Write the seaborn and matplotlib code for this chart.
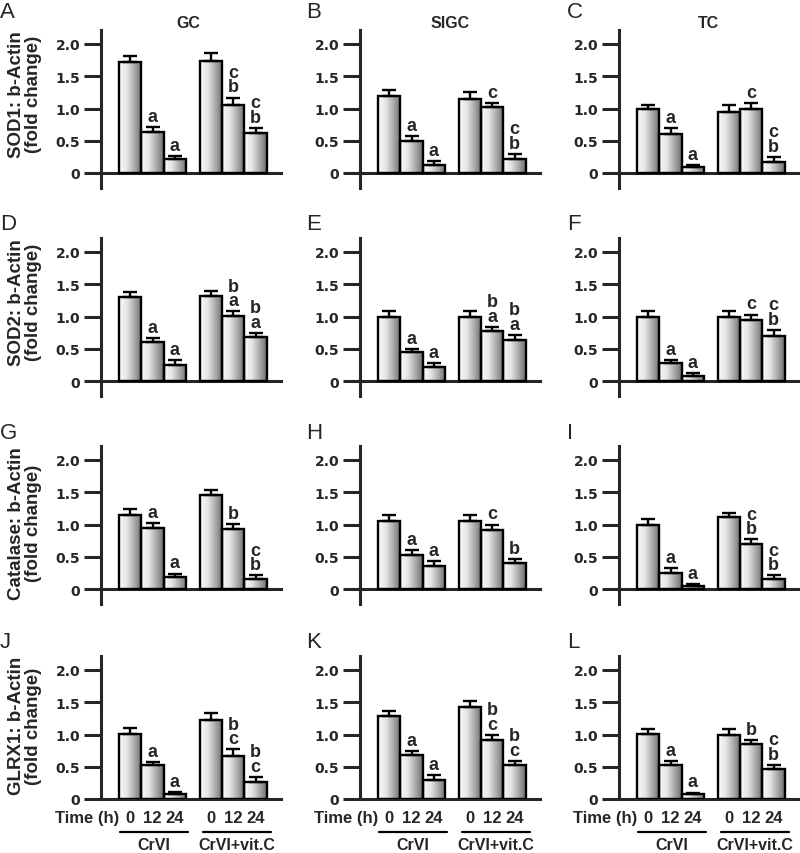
import matplotlib
matplotlib.use("Agg")
import matplotlib.pyplot as plt
from matplotlib.colors import LinearSegmentedColormap
import matplotlib.transforms as mtransforms
import numpy as np
import pandas as pd
import seaborn as sns
####################################################

# bar positions (two groups of three time points)
positions = [0, 1, 2, 3.6, 4.6, 5.6]
time_labels = ["0", "12", "24", "0", "12", "24"]
groups = ["CrVI", "CrVI+vit.C"]
columns = ["GC", "SIGC", "TC"]
row_labels = ["SOD1: b-Actin\n(fold change)",
              "SOD2: b-Actin\n(fold change)",
              "Catalase: b-Actin\n(fold change)",
              "GLRX1: b-Actin\n(fold change)"]
panel_letters = ["A", "B", "C", "D", "E", "F", "G", "H", "I", "J", "K", "L"]

means = {
    "A": [1.72, 0.63, 0.21, 1.74, 1.05, 0.62],
    "B": [1.19, 0.50, 0.13, 1.15, 1.02, 0.22],
    "C": [0.99, 0.61, 0.09, 0.95, 0.99, 0.17],
    "D": [1.31, 0.61, 0.25, 1.32, 1.01, 0.68],
    "E": [1.00, 0.45, 0.22, 1.00, 0.77, 0.63],
    "F": [1.00, 0.28, 0.07, 1.00, 0.95, 0.70],
    "G": [1.15, 0.94, 0.19, 1.45, 0.93, 0.16],
    "H": [1.05, 0.52, 0.36, 1.05, 0.91, 0.40],
    "I": [1.00, 0.25, 0.05, 1.11, 0.70, 0.15],
    "J": [1.01, 0.52, 0.07, 1.22, 0.66, 0.27],
    "K": [1.28, 0.68, 0.30, 1.42, 0.92, 0.52],
    "L": [1.01, 0.52, 0.07, 1.00, 0.85, 0.47],
}
sems = {
    "A": [0.10, 0.08, 0.05, 0.12, 0.12, 0.08],
    "B": [0.09, 0.07, 0.05, 0.10, 0.06, 0.08],
    "C": [0.07, 0.08, 0.04, 0.10, 0.09, 0.08],
    "D": [0.07, 0.06, 0.07, 0.07, 0.07, 0.07],
    "E": [0.09, 0.05, 0.06, 0.08, 0.07, 0.08],
    "F": [0.09, 0.05, 0.05, 0.08, 0.08, 0.09],
    "G": [0.09, 0.08, 0.05, 0.08, 0.08, 0.05],
    "H": [0.09, 0.08, 0.08, 0.09, 0.09, 0.07],
    "I": [0.09, 0.07, 0.02, 0.07, 0.07, 0.06],
    "J": [0.09, 0.06, 0.04, 0.12, 0.11, 0.07],
    "K": [0.08, 0.07, 0.07, 0.10, 0.07, 0.07],
    "L": [0.08, 0.07, 0.03, 0.09, 0.07, 0.06],
}
sig = {
    "A": ["", "a", "a", "", "c\nb", "c\nb"],
    "B": ["", "a", "a", "", "c", "c\nb"],
    "C": ["", "a", "a", "", "c", "c\nb"],
    "D": ["", "a", "a", "", "b\na", "b\na"],
    "E": ["", "a", "a", "", "b\na", "b\na"],
    "F": ["", "a", "a", "", "c", "c\nb"],
    "G": ["", "a", "a", "", "b", "c\nb"],
    "H": ["", "a", "a", "", "c", "b"],
    "I": ["", "a", "a", "", "c\nb", "c\nb"],
    "J": ["", "a", "a", "", "b\nc", "b\nc"],
    "K": ["", "a", "a", "", "b\nc", "b\nc"],
    "L": ["", "a", "a", "", "b", "c\nb"],
}

sns.set_style("ticks")
plt.rcParams['font.family'] = ['Liberation Sans', 'DejaVu Sans']

W, H = 800, 854
fig = plt.figure(figsize=(W / 100, H / 100), dpi=100)

grey_cmap = LinearSegmentedColormap.from_list("bargrad", ["#fafafa", "#e6e6e6", "#adadad", "#6e6e6e"])
grad = np.linspace(0, 1, 64).reshape(1, -1)

px_per_unit = 64.5
row_zero = [174, 382, 590, 800]
col_spine = [101, 360, 619]
xlim = (-1.3, 6.75)
x_px = 22.4
ax_w = (xlim[1] - xlim[0]) * x_px

for r in range(4):
    for c in range(3):
        letter = panel_letters[r * 3 + c]
        last = (r == 3)
        ylo = 0 if last else -0.23
        yhi = 2.22
        top_px = row_zero[r] - yhi * px_per_unit
        bot_px = row_zero[r] - ylo * px_per_unit
        ax = fig.add_axes([col_spine[c] / W, 1 - bot_px / H, ax_w / W, (bot_px - top_px) / H])

        df = pd.DataFrame({"pos": positions, "value": means[letter]})
        sns.barplot(data=df, x="pos", y="value", native_scale=True, errorbar=None,
                    width=1, color="#dddddd", edgecolor="black", linewidth=1.7, ax=ax)

        # gradient fill inside each bar
        for p in list(ax.patches):
            x0, w, h = p.get_x(), p.get_width(), p.get_height()
            im = ax.imshow(grad, extent=(x0, x0 + w, 0, h), cmap=grey_cmap, aspect="auto",
                           interpolation="bilinear", zorder=2)
            im.set_clip_path(p)
            p.set_facecolor("none")
            p.set_zorder(3)

        ax.errorbar(positions, means[letter], yerr=[np.zeros(6), sems[letter]], fmt="none",
                    ecolor="black", elinewidth=1.7, capsize=5.2, capthick=1.7, zorder=4)

        for xp, m, s, lab in zip(positions, means[letter], sems[letter], sig[letter]):
            if lab:
                ax.annotate(lab, (xp, m + s), xytext=(0, 1.5), textcoords="offset points",
                            ha="center", va="bottom", fontsize=13, fontweight="bold",
                            linespacing=0.82)

        ax.set_xlim(*xlim)
        ax.set_ylim(ylo, yhi)
        ax.set_yticks([0, 0.5, 1.0, 1.5, 2.0])
        ax.set_yticklabels(["0", "0.5", "1.0", "1.5", "2.0"], fontweight="heavy",
                           fontsize=10, family="DejaVu Sans")
        ax.tick_params(axis="y", direction="out", length=12, width=2.2, pad=3)
        for sp in ["top", "right"]:
            ax.spines[sp].set_visible(False)
        ax.spines["left"].set_linewidth(2.2)
        ax.spines["bottom"].set_linewidth(2.2)
        ax.spines["bottom"].set_position(("data", 0))
        ax.set_xlabel("")
        ax.set_ylabel("")
        ax.patch.set_alpha(0)

        if last:
            ax.set_xticks(positions)
            ax.set_xticklabels(time_labels, fontweight="bold", fontsize=12)
            ax.tick_params(axis="x", length=0, pad=8)
            ax.annotate("Time (h)", (-0.5, 0), xytext=(0, -8), textcoords="offset points",
                        ha="right", va="top", fontsize=12, fontweight="bold")
            trans = mtransforms.blended_transform_factory(ax.transData, ax.transAxes)
            for gi, (a, b) in enumerate([(-0.45, 2.6), (3.25, 6.3)]):
                ax.plot([a, b], [-0.228, -0.228], color="black", lw=1.6,
                        transform=trans, clip_on=False)
                ax.text((a + b) / 2, -0.268, groups[gi], transform=trans, ha="center",
                        va="top", fontsize=11.5, fontweight="bold")
        else:
            ax.set_xticks([])

        # panel letter
        lx = [0, 306, 567][c]
        ly = [12, 225, 434, 643][r]
        fig.text(lx / W, 1 - ly / H, letter, fontsize=16, ha="left", va="center")

    fig.text(25 / W, 1 - (row_zero[r] - 143) / H, row_labels[r], rotation=90, ha="center",
             va="top", fontsize=13.5, fontweight="bold", linespacing=1.0,
             multialignment="center")

for c, name in enumerate(columns):
    fig.text([188, 450, 708][c] / W, 1 - 23 / H, name, ha="center", va="center",
             fontsize=11.5, fontweight="bold")

fig.savefig("out.png", dpi=100)
